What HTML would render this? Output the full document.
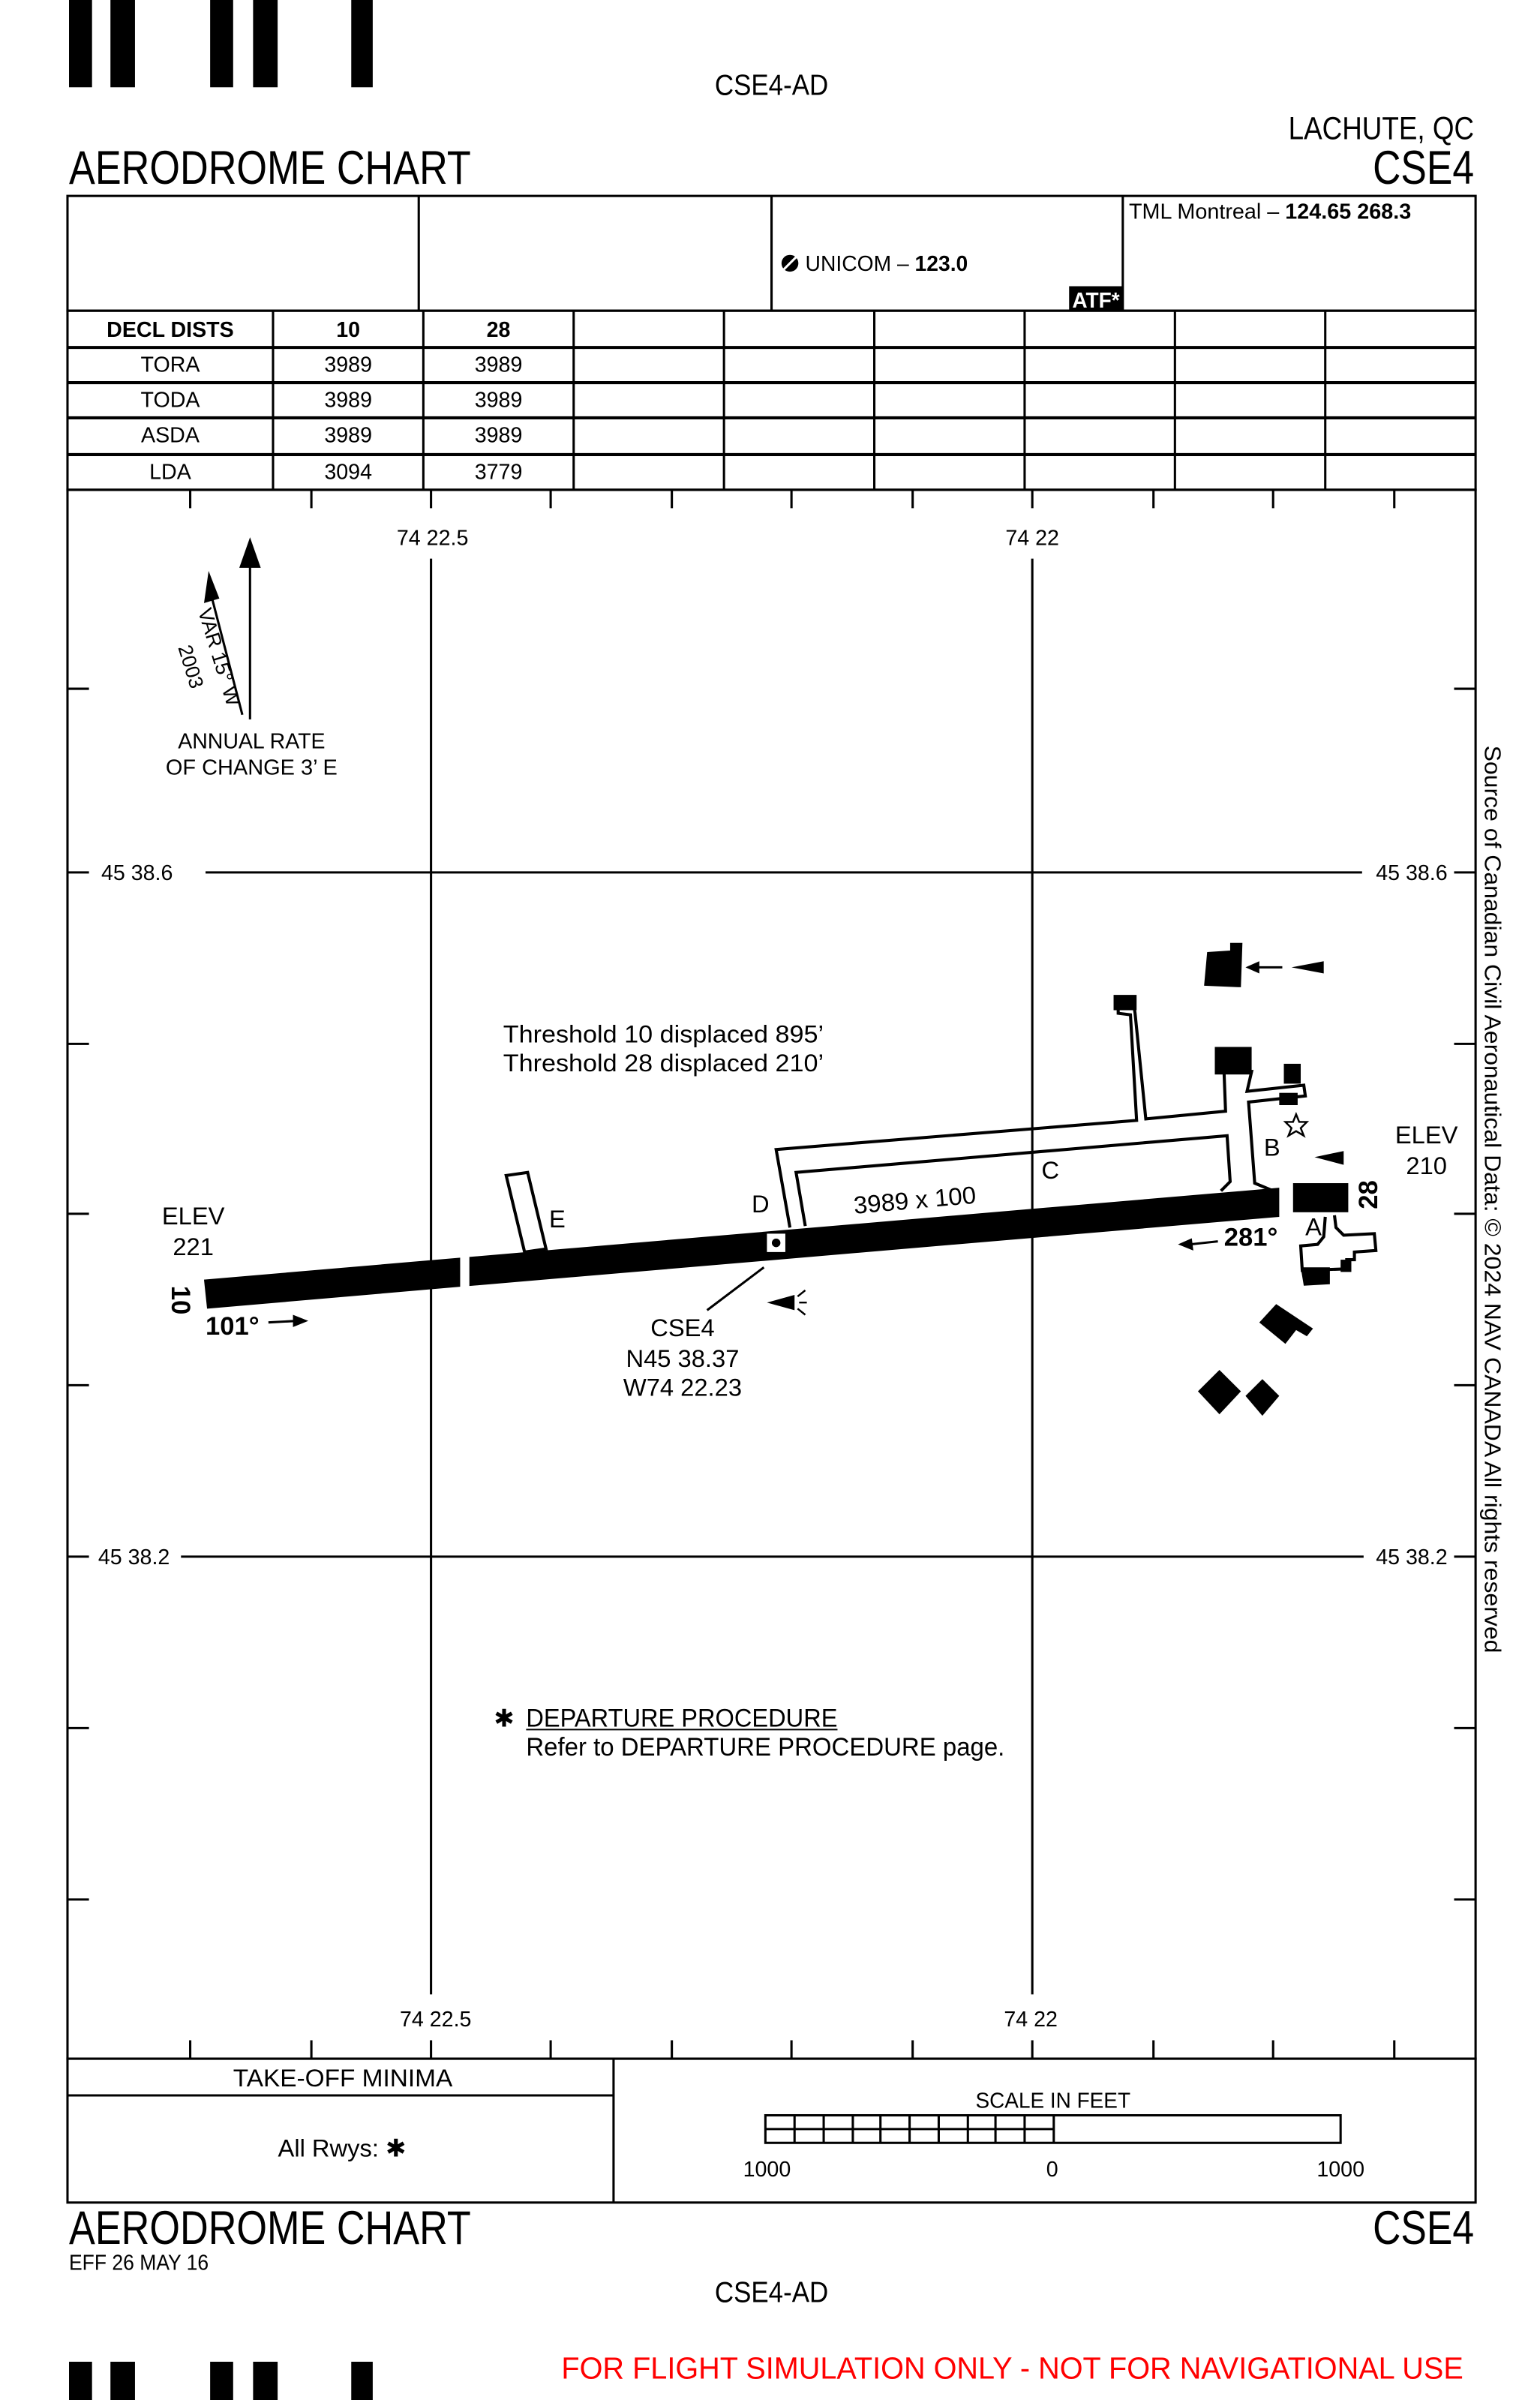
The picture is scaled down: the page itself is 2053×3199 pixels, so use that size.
<!DOCTYPE html>
<html><head><meta charset="utf-8"><style>
html,body{margin:0;padding:0;background:#fff;}
svg{display:block;}
text{font-family:"Liberation Sans Narrow","Liberation Sans",sans-serif;fill:#000;}
</style></head><body>
<svg width="2053" height="3199" viewBox="0 0 1004 1568" preserveAspectRatio="none" xmlns="http://www.w3.org/2000/svg">
<rect x="0" y="0" width="1004" height="1568" fill="#fff"/>
<g fill="#000">
<rect x="45" y="0" width="15" height="57"/><rect x="72" y="0" width="16" height="57"/>
<rect x="137" y="0" width="15" height="57"/><rect x="165" y="0" width="16" height="57"/>
<rect x="229" y="0" width="14" height="57"/>
<rect x="45" y="1543" width="15" height="25"/><rect x="72" y="1543" width="16" height="25"/>
<rect x="137" y="1543" width="15" height="25"/><rect x="165" y="1543" width="16" height="25"/>
<rect x="229" y="1543" width="14" height="25"/>
</g>
<text x="466" y="62" font-size="19" textLength="74" lengthAdjust="spacingAndGlyphs">CSE4-AD</text>
<text x="840" y="91" font-size="21" textLength="121" lengthAdjust="spacingAndGlyphs">LACHUTE, QC</text>
<text x="45" y="120" font-size="31" textLength="262" lengthAdjust="spacingAndGlyphs">AERODROME CHART</text>
<text x="895" y="120" font-size="31" textLength="66" lengthAdjust="spacingAndGlyphs">CSE4</text>

<g fill="none" stroke="#000" stroke-width="1.5">
<rect x="44" y="128" width="918" height="75"/>
<line x1="273" y1="128" x2="273" y2="203"/><line x1="503" y1="128" x2="503" y2="203"/><line x1="732" y1="128" x2="732" y2="203"/>
</g>
<text x="736" y="143" font-size="14" textLength="184" lengthAdjust="spacingAndGlyphs">TML Montreal – <tspan font-weight="bold">124.65  268.3</tspan></text>
<circle cx="515" cy="172" r="5.5" fill="#000"/><path d="M511,176 L519,168" stroke="#fff" stroke-width="1.5"/>
<text x="525" y="177" font-size="14" textLength="106" lengthAdjust="spacingAndGlyphs">UNICOM – <tspan font-weight="bold">123.0</tspan></text>
<rect x="697" y="187" width="35" height="16" fill="#000"/>
<text x="699" y="201" font-size="14" font-weight="bold" textLength="31" lengthAdjust="spacingAndGlyphs" style="fill:#fff">ATF*</text>

<g fill="none" stroke="#000" stroke-width="1.5">
<rect x="44" y="203" width="918" height="117"/>
<line x1="44" y1="227" x2="962" y2="227" stroke-width="2"/>
<line x1="44" y1="250" x2="962" y2="250" stroke-width="2"/>
<line x1="44" y1="273" x2="962" y2="273" stroke-width="2"/>
<line x1="44" y1="297" x2="962" y2="297" stroke-width="2"/>
<line x1="178" y1="203" x2="178" y2="320"/><line x1="276" y1="203" x2="276" y2="320"/>
<line x1="374" y1="203" x2="374" y2="320"/><line x1="472" y1="203" x2="472" y2="320"/>
<line x1="570" y1="203" x2="570" y2="320"/><line x1="668" y1="203" x2="668" y2="320"/>
<line x1="766" y1="203" x2="766" y2="320"/><line x1="864" y1="203" x2="864" y2="320"/>
</g>
<g font-size="14" text-anchor="middle">
<text x="111" y="220" font-weight="bold">DECL DISTS</text><text x="227" y="220" font-weight="bold">10</text><text x="325" y="220" font-weight="bold">28</text>
<text x="111" y="243">TORA</text><text x="227" y="243">3989</text><text x="325" y="243">3989</text>
<text x="111" y="266">TODA</text><text x="227" y="266">3989</text><text x="325" y="266">3989</text>
<text x="111" y="289">ASDA</text><text x="227" y="289">3989</text><text x="325" y="289">3989</text>
<text x="111" y="313">LDA</text><text x="227" y="313">3094</text><text x="325" y="313">3779</text>
</g>

<g fill="none" stroke="#000" stroke-width="1.5">
<rect x="44" y="320" width="918" height="1025"/>
<path d="M124,320v12M203,320v12M281,320v12M359,320v12M438,320v12M516,320v12M595,320v12M673,320v12M752,320v12M830,320v12M909,320v12"/>
<path d="M124,1345v-12M203,1345v-12M281,1345v-12M359,1345v-12M438,1345v-12M516,1345v-12M595,1345v-12M673,1345v-12M752,1345v-12M830,1345v-12M909,1345v-12"/>
<path d="M44,450h14M44,570h14M44,682h14M44,793h14M44,905h14M44,1017h14M44,1129h14M44,1241h14"/>
<path d="M962,450h-14M962,570h-14M962,682h-14M962,793h-14M962,905h-14M962,1017h-14M962,1129h-14M962,1241h-14"/>
<line x1="281" y1="365" x2="281" y2="1303"/><line x1="673" y1="365" x2="673" y2="1303"/>
<line x1="134" y1="570" x2="888" y2="570"/><line x1="118" y1="1017" x2="889" y2="1017"/>
</g>
<g font-size="14">
<text x="282" y="356" text-anchor="middle">74 22.5</text><text x="673" y="356" text-anchor="middle">74 22</text>
<text x="284" y="1324" text-anchor="middle">74 22.5</text><text x="672" y="1324" text-anchor="middle">74 22</text>
<text x="66" y="575">45 38.6</text><text x="897" y="575">45 38.6</text>
<text x="64" y="1022">45 38.2</text><text x="897" y="1022">45 38.2</text>
</g>
<text font-size="15" transform="translate(968,487) rotate(90)" textLength="593" lengthAdjust="spacingAndGlyphs">Source of Canadian Civil Aeronautical Data: © 2024 NAV CANADA All rights reserved</text>

<line x1="163" y1="470" x2="163" y2="368" stroke="#000" stroke-width="1.5"/>
<polygon points="163,351 156,371 170,371" fill="#000"/>
<line x1="158" y1="467" x2="138" y2="390" stroke="#000" stroke-width="1.5"/>
<polygon points="136,373 133,394 143,391" fill="#000"/>
<text font-size="13" transform="translate(129,399) rotate(73)" textLength="66" lengthAdjust="spacingAndGlyphs">VAR 15° W</text>
<text font-size="13" transform="translate(116,423) rotate(73)">2003</text>
<text x="116" y="489" font-size="14" textLength="96" lengthAdjust="spacingAndGlyphs">ANNUAL RATE</text>
<text x="108" y="506" font-size="14" textLength="112" lengthAdjust="spacingAndGlyphs">OF CHANGE 3’ E</text>

<polygon points="133,836 300,821.7 300,840.7 135,855" fill="#000"/>
<polygon points="306,821.2 834,776 834,795 306,840.2" fill="#000"/>
<rect x="500" y="806" width="12" height="12" fill="#fff"/><circle cx="506" cy="812" r="2.8" fill="#000"/>
<g fill="none" stroke="#000" stroke-width="2">
<polygon points="330,768 344,766 356,816 342,818" fill="#fff"/>
<polyline points="515,802 506,751 741,732 737,663 729,662 729,656 739,655 740,662 747,731 799,726 798,700 816,700 813,713 850,709 851,716 814,720 818,773 830,778"/>
<polyline points="525,801 519,766 800,742 802,772 796,778"/>
<polyline points="864,795 863,808 859,813 848,814 849,830 878,829 878,823 883,823 883,818 897,817 896,806 876,807 871,802 870,794"/>
</g>
<g fill="#000">
<rect x="726" y="650" width="15" height="10"/>
<polygon points="787,622 802,621 802,616 810,616 809,645 785,644"/>
<rect x="792" y="684" width="24" height="18"/>
<rect x="837" y="695" width="11" height="13"/>
<rect x="834" y="714" width="12" height="8"/>
<rect x="843" y="773" width="36" height="19"/>
<polygon points="848,828 867,828 867,839 850,840"/>
<rect x="874" y="823" width="7" height="8"/>
<polygon points="832,852 856,868 852,873 845,869 838,878 821,864"/>
<polygon points="795,895 809,909 795,924 781,909"/>
<polygon points="823,901 834,912 823,925 812,912"/>
<polygon points="842,632 863,628 863,636"/>
<polygon points="812,632 821,628 821,636"/><line x1="820" y1="632" x2="836" y2="632" stroke="#000" stroke-width="1.5"/>
<polygon points="857,756 876,752 876,761"/>
<polygon points="500,851 518,846 518,856"/>
<polygon points="768,813 777,809 778,817"/><line x1="776" y1="813" x2="794" y2="811" stroke="#000" stroke-width="1.5"/>
<polygon points="201,863 191,859 191,867"/><line x1="175" y1="864" x2="193" y2="863" stroke="#000" stroke-width="1.5"/>
</g>
<path d="M845,728 L847,733 L852,733 L848,737 L850,742 L845,739 L840,742 L842,737 L838,733 L843,733 Z" fill="#fff" stroke="#000" stroke-width="1.2"/>
<path d="M520,847 L525,843 M521,851 L526,851 M520,855 L525,859" stroke="#000" stroke-width="1.2"/>
<line x1="461" y1="856" x2="498" y2="828" stroke="#000" stroke-width="1.5"/>

<g font-size="16">
<text x="358" y="802">E</text><text x="490" y="792">D</text><text x="679" y="770">C</text><text x="824" y="755">B</text><text x="851" y="807">A</text>
<text transform="translate(557,793) rotate(-5)" textLength="80" lengthAdjust="spacingAndGlyphs">3989 x 100</text>
<text x="328" y="681" textLength="209" lengthAdjust="spacingAndGlyphs">Threshold 10 displaced 895’</text>
<text x="328" y="700" textLength="209" lengthAdjust="spacingAndGlyphs">Threshold 28 displaced 210’</text>
<text x="126" y="800" text-anchor="middle">ELEV</text><text x="126" y="820" text-anchor="middle">221</text>
<text x="930" y="747" text-anchor="middle">ELEV</text><text x="930" y="767" text-anchor="middle">210</text>
<text x="445" y="873" text-anchor="middle">CSE4</text>
<text x="445" y="893" text-anchor="middle">N45 38.37</text>
<text x="445" y="912" text-anchor="middle">W74 22.23</text>
</g>
<text font-size="17" font-weight="bold" transform="translate(112,840) rotate(90)">10</text>
<text font-size="17" font-weight="bold" transform="translate(898,790) rotate(-90)">28</text>
<text x="134" y="872" font-size="17" font-weight="bold" textLength="35" lengthAdjust="spacingAndGlyphs">101°</text>
<text x="798" y="814" font-size="17" font-weight="bold" textLength="35" lengthAdjust="spacingAndGlyphs">281°</text>

<text x="322" y="1128" font-size="16">✱</text>
<text x="343" y="1128" font-size="17" textLength="203" lengthAdjust="spacingAndGlyphs">DEPARTURE PROCEDURE</text>
<line x1="343" y1="1130" x2="546" y2="1130" stroke="#000" stroke-width="1"/>
<text x="343" y="1147" font-size="17" textLength="312" lengthAdjust="spacingAndGlyphs">Refer to DEPARTURE PROCEDURE page.</text>

<g fill="none" stroke="#000" stroke-width="1.5">
<rect x="44" y="1345" width="918" height="94"/>
<line x1="400" y1="1345" x2="400" y2="1439"/>
<line x1="44" y1="1369" x2="400" y2="1369"/>
<rect x="499" y="1382" width="375" height="18"/>
<line x1="499" y1="1391" x2="687" y2="1391"/>
<path d="M518,1382v18M537,1382v18M556,1382v18M574,1382v18M593,1382v18M612,1382v18M631,1382v18M649,1382v18M668,1382v18M687,1382v18"/>
</g>
<text x="152" y="1363" font-size="16" textLength="143" lengthAdjust="spacingAndGlyphs">TAKE-OFF MINIMA</text>
<text x="223" y="1409" font-size="16" text-anchor="middle">All Rwys: ✱</text>
<text x="636" y="1377" font-size="14" textLength="101" lengthAdjust="spacingAndGlyphs">SCALE IN FEET</text>
<text x="500" y="1422" font-size="14" text-anchor="middle">1000</text>
<text x="686" y="1422" font-size="14" text-anchor="middle">0</text>
<text x="874" y="1422" font-size="14" text-anchor="middle">1000</text>

<text x="45" y="1466" font-size="31" textLength="262" lengthAdjust="spacingAndGlyphs">AERODROME CHART</text>
<text x="895" y="1466" font-size="31" textLength="66" lengthAdjust="spacingAndGlyphs">CSE4</text>
<text x="45" y="1483" font-size="14" textLength="91" lengthAdjust="spacingAndGlyphs">EFF 26 MAY 16</text>
<text x="466" y="1504" font-size="19" textLength="74" lengthAdjust="spacingAndGlyphs">CSE4-AD</text>
<text x="366" y="1554" font-size="20" textLength="588" lengthAdjust="spacingAndGlyphs" style="fill:#f00">FOR FLIGHT SIMULATION ONLY - NOT FOR NAVIGATIONAL USE</text>
</svg>
</body></html>
